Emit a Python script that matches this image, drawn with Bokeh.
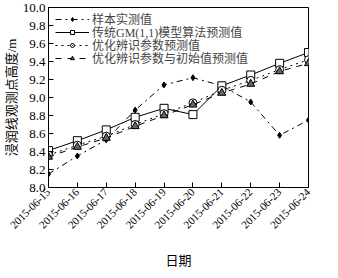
from bokeh.plotting import figure
from bokeh.embed import file_html
from bokeh.resources import INLINE
from bokeh.models import FixedTicker, Legend, LegendItem, NumeralTickFormatter

dates = ["2015-06-15", "2015-06-16", "2015-06-17", "2015-06-18", "2015-06-19",
         "2015-06-20", "2015-06-21", "2015-06-22", "2015-06-23", "2015-06-24"]
sample = [8.15, 8.35, 8.53, 8.86, 9.14, 9.22, 9.13, 8.95, 8.58, 8.75]
gm11 = [8.41, 8.52, 8.64, 8.78, 8.88, 8.81, 9.13, 9.25, 9.38, 9.50]
opt_param = [8.36, 8.47, 8.57, 8.70, 8.82, 8.94, 9.08, 9.19, 9.31, 9.42]
opt_param_init = [8.34, 8.45, 8.55, 8.68, 8.80, 8.92, 9.05, 9.15, 9.29, 9.38]
labels = ["样本实测值", "传统GM(1,1)模型算法预测值", "优化辨识参数预测值", "优化辨识参数与初始值预测值"]
yticks = [8.0, 8.2, 8.4, 8.6, 8.8, 9.0, 9.2, 9.4, 9.6, 9.8, 10.0]

FONT = "'Liberation Serif', 'Noto Sans CJK SC'"
x = list(range(len(dates)))

p = figure(width=330, height=270, output_backend="svg", toolbar_location=None,
           x_range=(0, len(dates) - 1), y_range=(8.0, 10.0),
           min_border_left=48, min_border_right=22, min_border_top=7, min_border_bottom=76)
p.background_fill_color = "white"
p.border_fill_color = "white"
p.outline_line_color = "black"
p.outline_line_width = 1
p.grid.visible = False

r1l = p.line(x, sample, line_color="black", line_dash="dashdot", line_width=1)
r1m = p.scatter(x, sample, marker="diamond", size=6, fill_color="black", line_color="black")
r2l = p.line(x, gm11, line_color="black", line_width=1)
r2m = p.scatter(x, gm11, marker="square", size=8, fill_color="white", line_color="black")
r3l = p.line(x, opt_param, line_color="black", line_dash="dotted", line_width=1)
r3m = p.scatter(x, opt_param, marker="circle_dot", size=8, fill_color="white", line_color="black")
r4l = p.line(x, opt_param_init, line_color="black", line_dash="dashed", line_width=1)
r4m = p.scatter(x, opt_param_init, marker="triangle", size=8, fill_color="#666666", line_color="black")

renderer_pairs = [[r1l, r1m], [r2l, r2m], [r3l, r3m], [r4l, r4m]]
legend_rows_y = [159, 146, 133, 120]  # pixel offsets of each legend row
for lab, rends, ly in zip(labels, renderer_pairs, legend_rows_y):
    lg = Legend(items=[LegendItem(label=lab, renderers=rends)], location=(7, ly))
    lg.border_line_color = None
    lg.background_fill_alpha = 0
    lg.label_text_font = FONT
    lg.label_text_font_size = "12px"
    lg.glyph_width = 34
    lg.glyph_height = 10
    lg.label_height = 10
    lg.spacing = 0
    lg.padding = 0
    lg.margin = 0
    lg.label_standoff = 3
    p.add_layout(lg)

p.xaxis.ticker = FixedTicker(ticks=x)
p.xaxis.major_label_overrides = {i: d for i, d in enumerate(dates)}
p.xaxis.major_label_orientation = 0.785
p.yaxis.ticker = FixedTicker(ticks=yticks)
p.yaxis.formatter = NumeralTickFormatter(format="0.0")

for ax in (p.xaxis[0], p.yaxis[0]):
    ax.major_tick_in = 5
    ax.major_tick_out = 0
    ax.minor_tick_line_color = None
    ax.axis_line_color = "black"
    ax.major_label_text_font = FONT
    ax.major_label_text_color = "black"
    ax.axis_label_text_font = FONT
    ax.axis_label_text_font_size = "13px"
    ax.axis_label_text_font_style = "normal"
    ax.axis_label_text_color = "black"

p.yaxis.major_label_text_font_size = "13px"
p.xaxis.major_label_text_font_size = "11px"
p.xaxis.axis_label = "日期"
p.yaxis.axis_label = "浸润线观测点高度/m"
p.xaxis.major_label_standoff = 3
p.yaxis.major_label_standoff = 3
p.yaxis.axis_label_standoff = 1
p.xaxis.axis_label_standoff = 18

open("out.html", "w").write(file_html(p, INLINE))
